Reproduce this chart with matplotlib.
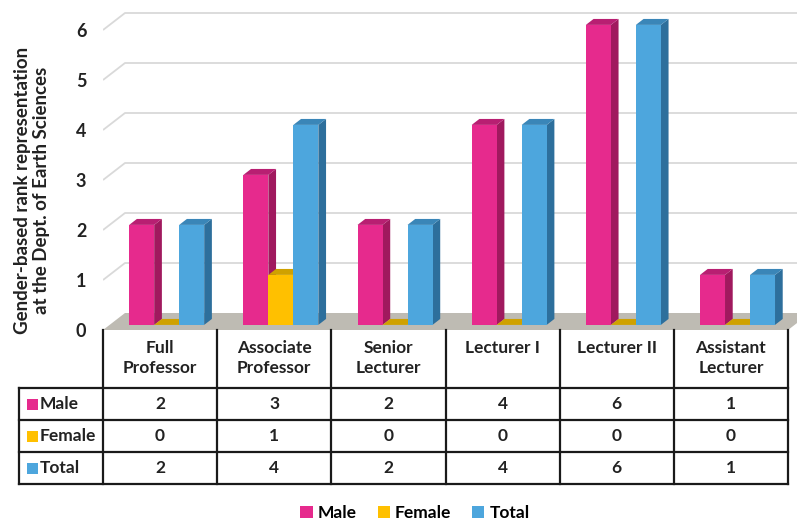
import matplotlib
matplotlib.use("Agg")
import matplotlib.pyplot as plt
from matplotlib.patches import Polygon, Rectangle, Patch

plt.rcParams['font.family'] = ['Lato', 'DejaVu Sans']
plt.rcParams['font.weight'] = 'bold'

# ---- data ----
categories = ["Full\nProfessor", "Associate\nProfessor", "Senior\nLecturer",
              "Lecturer I", "Lecturer II", "Assistant\nLecturer"]
series_names = ["Male", "Female", "Total"]
male = [2, 3, 2, 4, 6, 1]
female = [0, 1, 0, 0, 0, 0]
total = [2, 4, 2, 4, 6, 1]
yticks = [0, 1, 2, 3, 4, 5, 6]
ylabel = "Gender-based rank representation\nat the Dept. of Earth Sciences"

# ---- style ----
front_c = ["#E62A8D", "#FFC000", "#4DA6DD"]
side_c = ["#A0195E", "#B88E00", "#2D6F9C"]
top_c = ["#B81F72", "#CFA100", "#3A86B8"]
grid_c = "#D9D9D9"
floor_c = "#BEBBB3"
txt_c = "#222222"
fs = 12.5

W, H = 797, 523
fig = plt.figure(figsize=(W / 100, H / 100), dpi=100)

# plot area in pixels
left_px, right_px = 103, 797
zero_px, top_px = 330, 0
cat_w_px = (788 - 103) / 6.0
px_per_unit = 50.0
xmax = (right_px - left_px) / cat_w_px
ymax = (zero_px - top_px) / px_per_unit

ax = fig.add_axes([left_px / W, (H - zero_px) / H, (right_px - left_px) / W, (zero_px - top_px) / H])
ax.set_xlim(0, xmax)
ax.set_ylim(0, ymax)
for s in ax.spines.values():
    s.set_visible(False)
ax.set_xticks([])
ax.set_yticks(yticks)
ax.set_yticklabels([str(t) for t in yticks], fontsize=13, fontweight='bold', color=txt_c)
ax.tick_params(axis='y', length=0, pad=12)

# depth offsets (data units)
DX = 22 / cat_w_px
DY = 17 / px_per_unit
f0, f1 = 0.3, 0.65
ncat = len(categories)

# floor
ax.add_patch(Polygon([(0, 0), (DX, DY), (ncat + DX, DY), (ncat, 0)], closed=True,
                     facecolor=floor_c, edgecolor='none', zorder=1))
# gridlines
for v in yticks[1:]:
    ax.plot([0, DX, xmax], [v, v + DY, v + DY], color=grid_c, lw=1.3, zorder=0.5,
            solid_capstyle='butt')

# bars
bw = 25 / cat_w_px
values = [male, female, total]
for i in range(ncat):
    start = i + 0.5 - 1.5 * bw
    for j, vals in enumerate(values):
        h = vals[i]
        x0 = start + j * bw + f0 * DX
        y0 = f0 * DY
        ddx = (f1 - f0) * DX
        ddy = (f1 - f0) * DY
        z = 2 + i * 0.1 + j * 0.01
        if h > 0:
            ax.add_patch(Polygon([(x0 + bw, y0), (x0 + bw + ddx, y0 + ddy),
                                  (x0 + bw + ddx, y0 + h + ddy), (x0 + bw, y0 + h)],
                                 closed=True, facecolor=side_c[j], edgecolor='none', zorder=z))
        ax.add_patch(Polygon([(x0, y0 + h), (x0 + bw, y0 + h), (x0 + bw + ddx, y0 + h + ddy),
                              (x0 + ddx, y0 + h + ddy)],
                             closed=True, facecolor=top_c[j], edgecolor='none', zorder=z))
        if h > 0:
            ax.bar(x0, h, width=bw, bottom=y0, align='edge', color=front_c[j],
                   edgecolor='none', zorder=z + 0.001)

# ---- table ----
hdr_h, row_h = 58, 32
tab_h = hdr_h + 3 * row_h
tax = fig.add_axes([left_px / W, (H - zero_px - tab_h) / H, (right_px - left_px) / W, tab_h / H])
tax.set_xlim(0, xmax)
tax.set_ylim(tab_h, 0)
tax.axis('off')
lab_left = (19 - left_px) / cat_w_px
lc = "#1a1a1a"
lw = 1.6
for i in range(ncat + 1):
    tax.plot([i, i], [0, tab_h], color=lc, lw=lw, clip_on=False, solid_capstyle='projecting')
tax.plot([lab_left, lab_left], [hdr_h, tab_h], color=lc, lw=lw, clip_on=False)
for r in range(4):
    yy = hdr_h + r * row_h
    tax.plot([lab_left, ncat], [yy, yy], color=lc, lw=lw, clip_on=False, solid_capstyle='projecting')

for i, c in enumerate(categories):
    tax.text(i + 0.5, 10, c, ha='center', va='top', fontsize=fs, fontweight='bold',
             color=txt_c, linespacing=1.3)
for r, (name, vals) in enumerate(zip(series_names, values)):
    yc = hdr_h + r * row_h + row_h / 2
    sq = 11 / cat_w_px
    tax.add_patch(Rectangle(((27 - left_px) / cat_w_px, yc - 5.5), sq, 11,
                            facecolor=front_c[r], edgecolor='none', clip_on=False))
    tax.text((40 - left_px) / cat_w_px, yc, name, ha='left', va='center', fontsize=fs,
             fontweight='bold', color=txt_c)
    for i, v in enumerate(vals):
        tax.text(i + 0.5, yc, str(v), ha='center', va='center', fontsize=fs,
                 fontweight='bold', color=txt_c)

# y label
fig.text(32 / W, 1 - 190 / H, ylabel, rotation=90, ha='center', va='center',
         fontsize=13.5, fontweight='bold', color=txt_c, multialignment='center',
         linespacing=1.2)

# legend
handles = [Patch(facecolor=c, edgecolor='none') for c in front_c]
fig.legend(handles, series_names, loc='center', bbox_to_anchor=(415 / W, 1 - 513 / H),
           ncol=3, frameon=False, handlelength=0.7, handleheight=0.7, handletextpad=0.3,
           columnspacing=1.2, prop={'size': fs, 'weight': 'bold'})

fig.savefig("out.png", dpi=100)
